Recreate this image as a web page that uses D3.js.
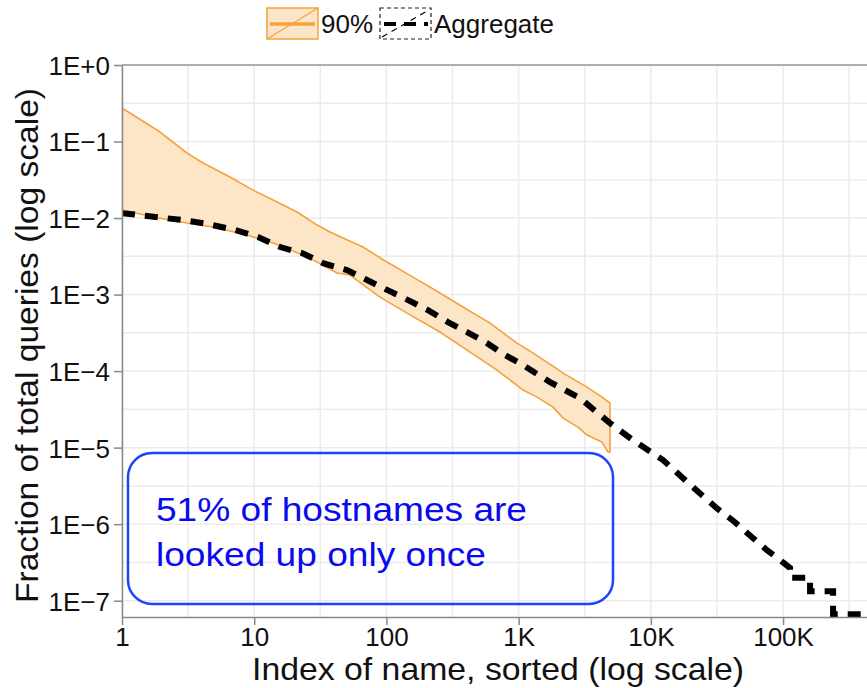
<!DOCTYPE html>
<html>
<head>
<meta charset="utf-8">
<script src="https://cdn.jsdelivr.net/npm/d3@7"></script>
<style>
  body { margin: 0; background: #fff; }
  text { font-family: "Liberation Sans", Arial, Helvetica, sans-serif; }
</style>
</head>
<body>
<svg id="canvas"></svg>
<script>
// 90% band, upper edge (index, fraction)
let bandUpper = [
    [1, 0.274], [1.94, 0.133], [3.1, 0.0708], [4.1, 0.0524], [6.56, 0.0344],
    [9.8, 0.0232], [13.9, 0.0172], [21.1, 0.012], [29.9, 0.0081], [37.4, 0.00656],
    [47, 0.00548], [66.5, 0.00418], [101, 0.00266], [159, 0.00169], [254, 0.00105],
    [379, 0.000687], [608, 0.000424], [972, 0.000232], [1220, 0.000182], [1820, 0.000116],
    [2170, 0.0000942], [3290, 0.0000618], [4270, 0.0000457], [4910, 0.0000382]
];
// 90% band, lower edge
let bandLower = [
    [1, 0.01273], [1.72, 0.0103], [3.1, 0.0086], [4.88, 0.00763], [8.82, 0.006],
    [13.9, 0.00471], [25.5, 0.00309], [42.3, 0.00191], [53, 0.0018], [89.5, 0.000927],
    [143, 0.000573], [254, 0.000324], [429, 0.000177], [687, 0.000103], [1080, 0.0000565],
    [1378, 0.0000457], [1820, 0.0000338], [2170, 0.0000243], [2810, 0.0000185],
    [3290, 0.0000146], [4270, 0.0000118], [4745, 0.00000873], [4910, 0.00000873]
];
// aggregate curve
let aggregate = [
    [1, 0.0116], [2.89, 0.0094], [4.47, 0.00835], [7.16, 0.00697], [10.7, 0.00565],
    [15.7, 0.00418], [23, 0.00349], [33.1, 0.00258], [50.3, 0.00209], [71.3, 0.00155],
    [101, 0.00115], [146, 0.000847], [206, 0.000627], [292, 0.000437], [407, 0.000324],
    [577, 0.000232], [789, 0.000162], [1080, 0.00012], [1728, 0.0000718], [2912, 0.0000443],
    [4910, 0.0000209], [7330, 0.0000125], [12370, 0.00000687], [17530, 0.00000399],
    [24400, 0.00000239], [32200, 0.00000157], [43300, 0.00000106], [58200, 6.76e-7],
    [75600, 4.57e-7], [101700, 3.09e-7], [113000, 2.67e-7], [113000, 2.0e-7],
    [160000, 2.0e-7], [160000, 1.33e-7], [239000, 1.33e-7], [239000, 6.67e-8],
    [450000, 6.67e-8]
];

let xTicks = [1, 10, 100, 1000, 10000, 100000];
let xTickLabels = ["1", "10", "100", "1K", "10K", "100K"];
let yTicks = [1, 1e-1, 1e-2, 1e-3, 1e-4, 1e-5, 1e-6, 1e-7];
let yTickLabels = ["1E+0", "1E\u22121", "1E\u22122", "1E\u22123", "1E\u22124", "1E\u22125", "1E\u22126", "1E\u22127"];
let legendLabels = ["90%", "Aggregate"];
let noteLines = ["51% of hostnames are", "looked up only once"];

let width = 867;
let height = 688;
let mLeft = 122, mRight = 867, mTop = 65, mBottom = 617;

let orange = "#f5a23c";
let peach = "#fde5c8";

let canvas = d3.select("#canvas").attr("width", width).attr("height", height);

let xScale = d3.scaleLog().domain([1, 4.315e5]).range([mLeft, mRight]);
let yScale = d3.scaleLog().domain([6.12e-8, 1]).range([mBottom, mTop]);

// grid: major decades + half-decade minors
let drawGrid = () => {
    let g = canvas.append("g");
    let xs = [], ys = [];
    for (let k = 0; k <= 5.5; k += 0.5) xs.push(Math.pow(10, k));
    for (let k = -7; k <= 0; k += 0.5) ys.push(Math.pow(10, k));
    g.selectAll(".vx").data(xs).enter().append("line")
        .attr("x1", d => xScale(d)).attr("x2", d => xScale(d))
        .attr("y1", mTop).attr("y2", mBottom)
        .attr("stroke", "#ebebeb").attr("stroke-width", 1.5);
    g.selectAll(".hy").data(ys).enter().append("line")
        .attr("y1", d => yScale(d)).attr("y2", d => yScale(d))
        .attr("x1", mLeft).attr("x2", mRight)
        .attr("stroke", "#ebebeb").attr("stroke-width", 1.5);
}

let drawAxes = () => {
    let xAxis = d3.axisBottom(xScale).tickValues(xTicks)
        .tickFormat((d, i) => xTickLabels[i]).tickSize(8).tickSizeOuter(0);
    let yAxis = d3.axisLeft(yScale).tickValues(yTicks)
        .tickFormat((d, i) => yTickLabels[i]).tickSize(8).tickSizeOuter(0);

    let gx = canvas.append("g").attr("transform", `translate(0, ${mBottom})`).call(xAxis);
    let gy = canvas.append("g").attr("transform", `translate(${mLeft}, 0)`).call(yAxis);

    [gx, gy].forEach(g => {
        g.select(".domain").attr("stroke", "#888").attr("stroke-width", 1.5);
        g.selectAll(".tick line").attr("stroke", "#888").attr("stroke-width", 1.5);
        g.selectAll(".tick text").attr("fill", "#111").style("font-size", "26px")
            .style("font-family", "'Liberation Sans', Arial, sans-serif");
    });
    // baseline near y=646
    gx.selectAll(".tick text").attr("dy", null).attr("y", 29);
    gy.selectAll(".tick text").attr("x", -12).attr("dy", "0.36em");

    // top border of the panel
    canvas.append("line").attr("x1", mLeft).attr("x2", mRight)
        .attr("y1", mTop).attr("y2", mTop)
        .attr("stroke", "#999").attr("stroke-width", 1.5);

    canvas.append("text")
        .attr("x", 252).attr("y", 680)
        .attr("textLength", 492).attr("lengthAdjust", "spacingAndGlyphs")
        .style("font-size", "32px").attr("fill", "#111")
        .text("Index of name, sorted (log scale)");

    canvas.append("text")
        .attr("transform", "translate(38, 603) rotate(-90)")
        .attr("textLength", 515).attr("lengthAdjust", "spacingAndGlyphs")
        .style("font-size", "32px").attr("fill", "#111")
        .text("Fraction of total queries (log scale)");
}

let drawPlot = () => {
    canvas.append("clipPath").attr("id", "clip")
        .append("rect").attr("x", mLeft).attr("y", mTop)
        .attr("width", mRight - mLeft).attr("height", mBottom - mTop);

    let plot = canvas.append("g").attr("clip-path", "url(#clip)");
    let line = d3.line().x(d => xScale(d[0])).y(d => yScale(d[1]));

    // band polygon: upper forward, lower backward
    let poly = bandUpper.concat(bandLower.slice().reverse());
    plot.append("path")
        .attr("d", line(poly) + "Z")
        .attr("fill", peach).attr("stroke", orange)
        .attr("stroke-width", 1.6).attr("stroke-linejoin", "round");

    plot.append("path")
        .attr("d", line(aggregate))
        .attr("fill", "none").attr("stroke", "#000")
        .attr("stroke-width", 6).attr("stroke-dasharray", "13,10");
}

let drawLegend = () => {
    let g = canvas.append("g");
    // 90% key
    g.append("rect").attr("x", 267).attr("y", 8).attr("width", 51).attr("height", 31)
        .attr("fill", peach).attr("stroke", orange).attr("stroke-width", 1.5);
    g.append("line").attr("x1", 267).attr("y1", 39).attr("x2", 318).attr("y2", 8)
        .attr("stroke", orange).attr("stroke-width", 1.2);
    g.append("line").attr("x1", 270).attr("y1", 24).attr("x2", 315).attr("y2", 24)
        .attr("stroke", orange).attr("stroke-width", 3.5);
    g.append("text").attr("x", 321).attr("y", 33).style("font-size", "26px")
        .attr("fill", "#111").text(legendLabels[0]);

    // Aggregate key
    g.append("rect").attr("x", 380).attr("y", 8).attr("width", 51).attr("height", 31)
        .attr("fill", "#fff").attr("stroke", "#222").attr("stroke-width", 1.2)
        .attr("stroke-dasharray", "4,3");
    g.append("line").attr("x1", 382).attr("y1", 37).attr("x2", 429).attr("y2", 10)
        .attr("stroke", "#000").attr("stroke-width", 1.2).attr("stroke-dasharray", "6,5");
    g.append("line").attr("x1", 384).attr("y1", 24).attr("x2", 428).attr("y2", 24)
        .attr("stroke", "#000").attr("stroke-width", 4).attr("stroke-dasharray", "12,8");
    g.append("text").attr("x", 434).attr("y", 33).style("font-size", "26px")
        .attr("fill", "#111").text(legendLabels[1]);
}

let drawNote = () => {
    let noteWidths = [371, 330];
    canvas.append("rect").attr("x", 128).attr("y", 453).attr("width", 485).attr("height", 151)
        .attr("rx", 24).attr("ry", 24)
        .attr("fill", "none").attr("stroke", "#1a44ff").attr("stroke-width", 2.5);
    canvas.selectAll(".note").data(noteLines).enter().append("text")
        .attr("x", 156).attr("y", (d, i) => 521 + i * 45)
        .attr("textLength", (d, i) => noteWidths[i]).attr("lengthAdjust", "spacingAndGlyphs")
        .style("font-size", "33px").attr("fill", "#0a0af0")
        .text(d => d);
}

drawGrid();
drawPlot();
drawAxes();
drawLegend();
drawNote();
</script>
</body>
</html>
